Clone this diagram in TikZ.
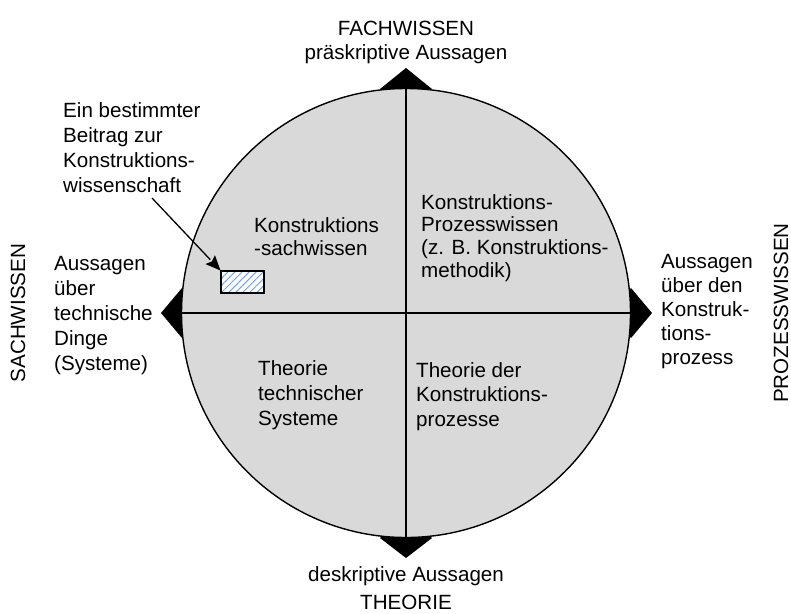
\documentclass[tikz,border=0pt]{standalone}
\usepackage{fontspec}
\setmainfont{Liberation Sans}
\usetikzlibrary{patterns,patterns.meta,calc}
\definecolor{circfill}{RGB}{217,217,217}
\definecolor{hatch}{RGB}{120,160,220}
\newcommand{\fs}[1]{\fontsize{20.6}{#1}\selectfont}
\begin{document}
\begin{tikzpicture}[x=1pt,y=-1pt,
  blk/.style={inner sep=0pt, anchor=north west, align=left},
  ttl/.style={inner sep=0pt, anchor=base, font=\fs{25}},
  tri/.style={fill=black},
  conn/.style={line width=1.3pt}]
\useasboundingbox (0,0) rectangle (791,613);
% black pointers (half hidden behind the circle)
\fill[tri] (380,89) -- (406,68) -- (432,89) -- (406,110) -- cycle;
\fill[tri] (380,538) -- (406,558) -- (432,538) -- (406,518) -- cycle;
\fill[tri] (182,288) -- (161,313) -- (182,338) -- (203,313) -- cycle;
\fill[tri] (631,288) -- (652,313) -- (631,338) -- (610,313) -- cycle;
% circle
\node[circle, draw, line width=1.4pt, fill=circfill, minimum size=449pt, inner sep=0pt] (c) at (406,313) {};
\draw[conn] (c.north) -- (c.south);
\draw[conn] (c.west) -- (c.east);
% titles
\node[ttl] (fach) at (406,35) {FACHWISSEN};
\node[ttl] (praes) at (406,59) {präskriptive Aussagen};
\node[ttl] (desk) at (406,581) {deskriptive Aussagen};
\node[ttl] (theo) at (406,609) {THEORIE};
\node[rotate=90, inner sep=0pt, font=\fs{25}] (sach) at (18,313) {SACHWISSEN};
\node[rotate=90, inner sep=0pt, font=\fs{25}] (proz) at (781,313) {PROZESSWISSEN};
% side texts
\node[blk, font=\fs{25}] (note) at (63,99.5) {\strut Ein bestimmter\\Beitrag zur\\Konstruktions-\\wissenschaft};
\node[blk, font=\fs{25}] (ldesc) at (54,252.5) {\strut Aussagen\\über\\technische\\Dinge\\(Systeme)};
\node[blk, font=\fs{24}] (rdesc) at (661,251.2) {\strut Aussagen\\über den\\Konstruk-\\tions-\\prozess};
% quadrant texts
\node[blk, font=\fs{23}] (q1) at (254,215.9) {\strut Konstruktions\\-sachwissen};
\node[blk, font=\fs{22.7}] (q2) at (421,193.1) {\strut Konstruktions-\\Prozesswissen\\(z. B. Konstruktions-\\methodik)};
\node[blk, font=\fs{25}] (q3) at (258,357.5) {\strut Theorie\\technischer\\Systeme};
\node[blk, font=\fs{24.5}] (q4) at (416,359.85) {\strut Theorie der\\Konstruktions-\\prozesse};
% hatched contribution box and arrow
\node[draw, line width=1.3pt, minimum width=43pt, minimum height=22pt, inner sep=0pt,
      preaction={fill=white},
      pattern={Lines[angle=45,distance=5pt,line width=1pt]}, pattern color=hatch] (box) at (242.5,282) {};
\coordinate (as) at (152,198);
\coordinate (tip) at (box.north west);
\coordinate (hb) at ($(tip)!15pt!(as)$);
\draw[line width=1.3pt] (as) -- (hb);
\fill ($(hb)!6.5pt!90:(tip)$) -- (tip) -- ($(hb)!6.5pt!-90:(tip)$) -- ($(tip)!12.5pt!(as)$) -- cycle;
\end{tikzpicture}
\end{document}
